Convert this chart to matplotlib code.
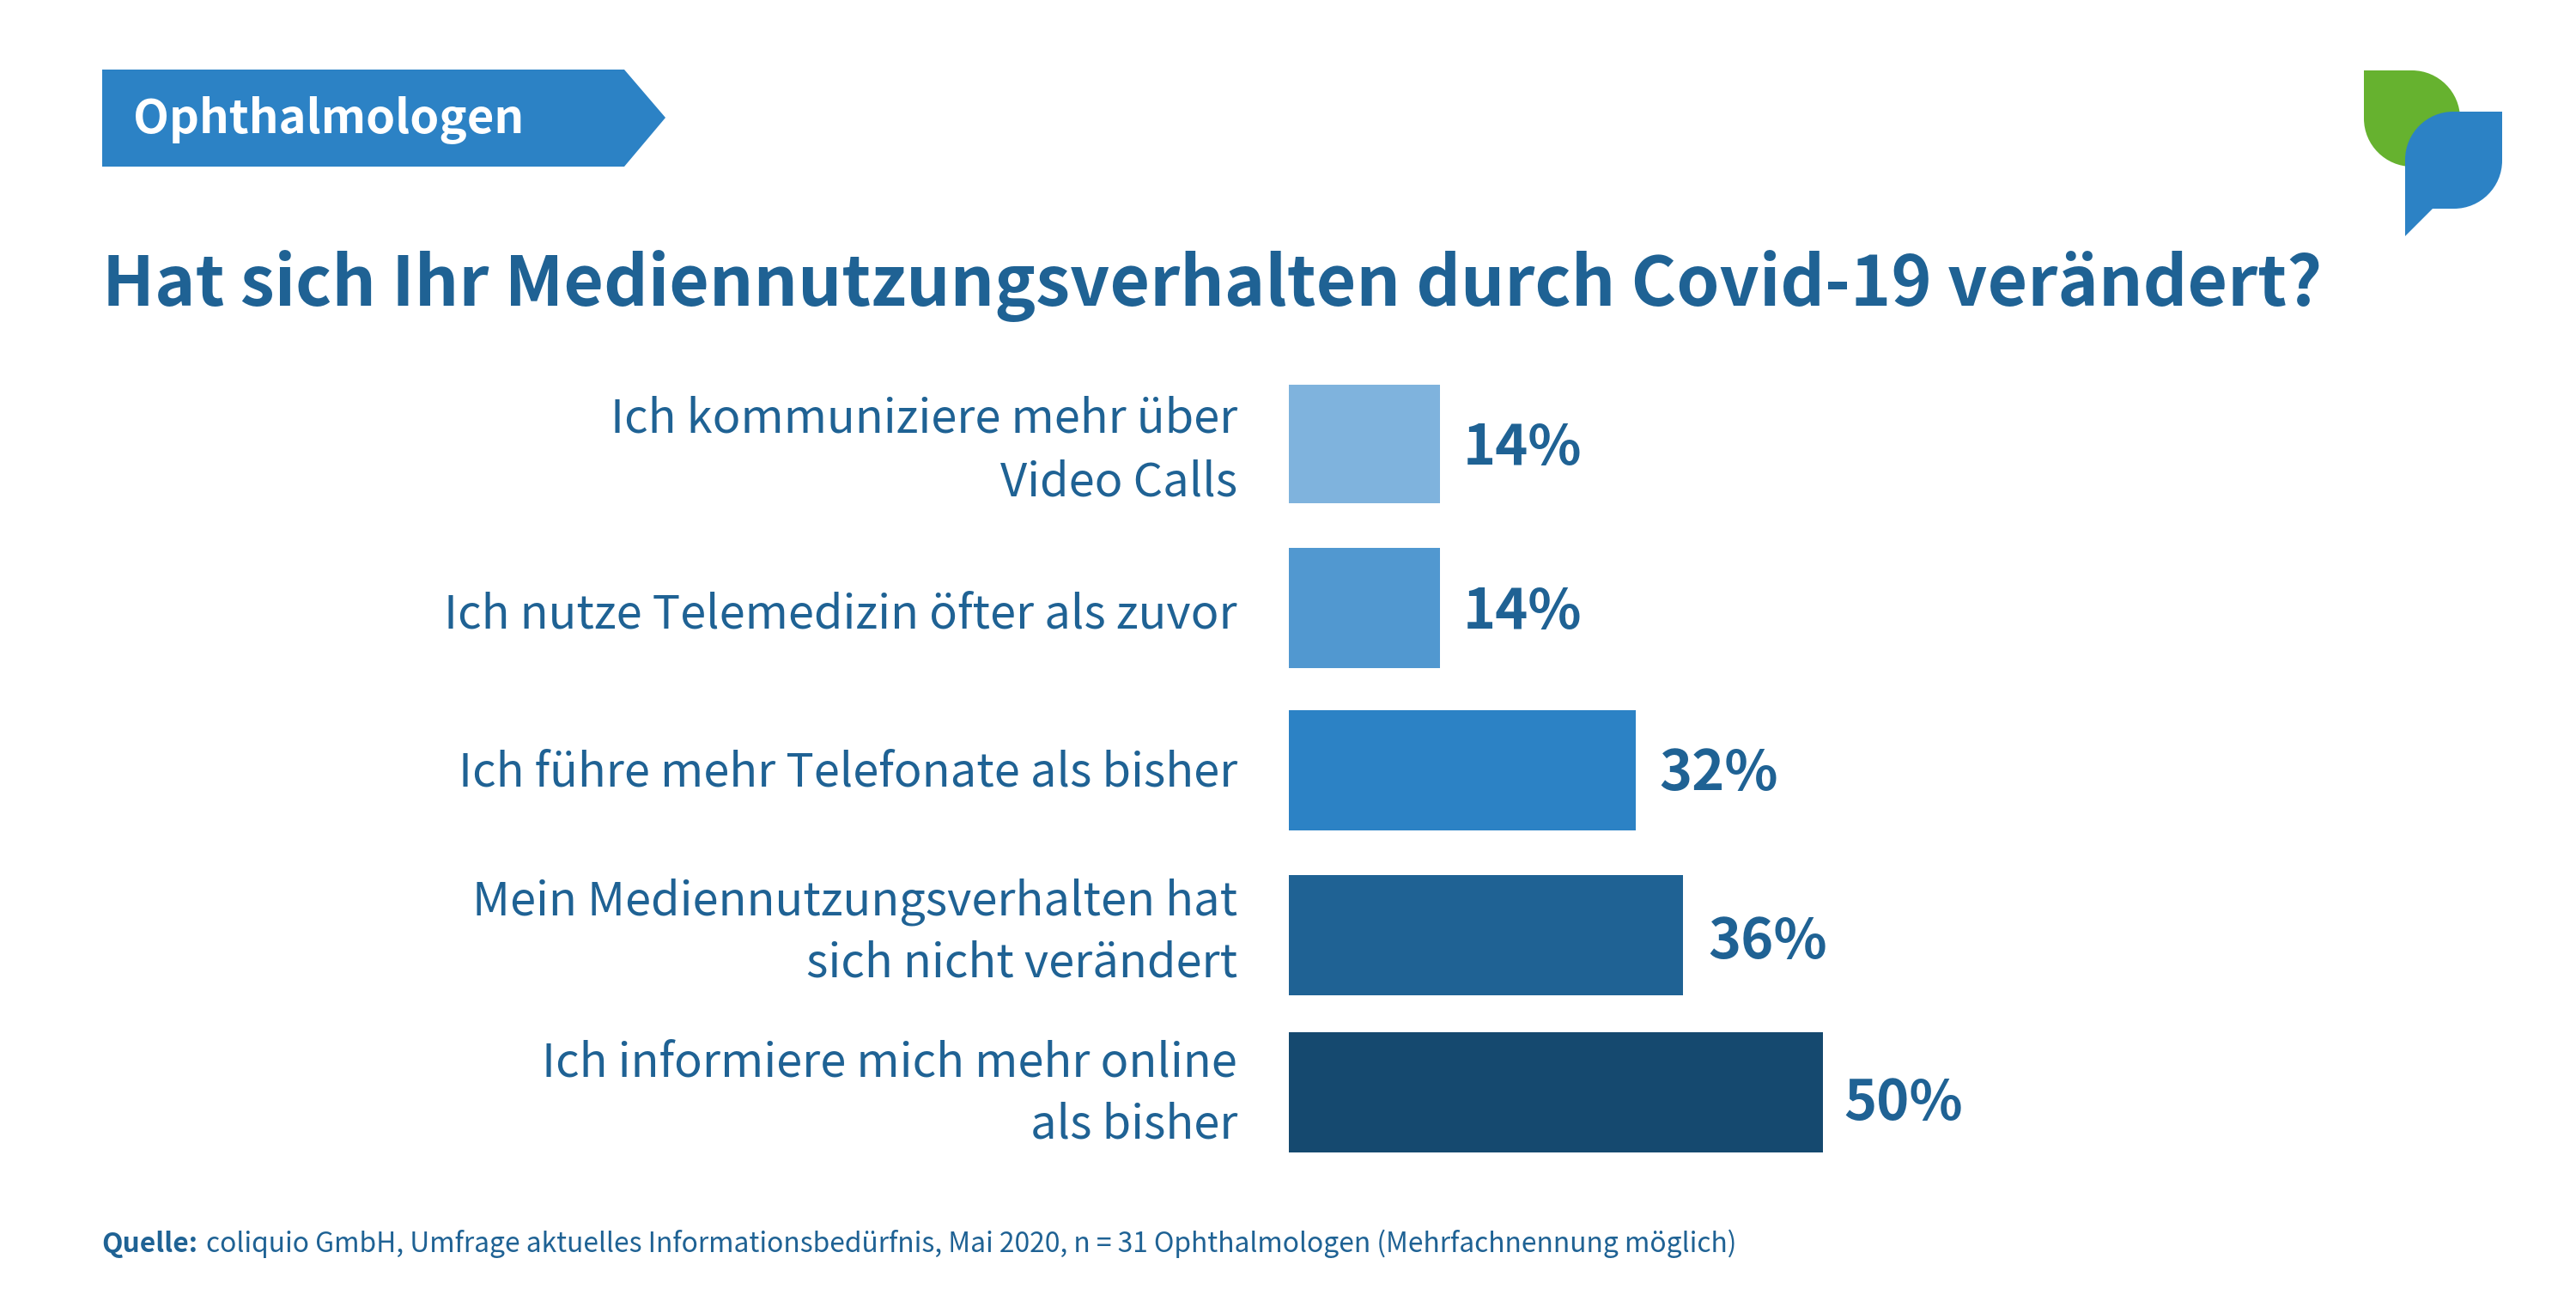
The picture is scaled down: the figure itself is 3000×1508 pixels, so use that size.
import matplotlib
matplotlib.use('Agg')
import matplotlib.pyplot as plt
from matplotlib.path import Path
from matplotlib.patches import PathPatch, Polygon

# answers, top to bottom
labels = ['Ich kommuniziere mehr über\nVideo Calls',
          'Ich nutze Telemedizin öfter als zuvor',
          'Ich führe mehr Telefonate als bisher',
          'Mein Mediennutzungsverhalten hat\nsich nicht verändert',
          'Ich informiere mich mehr online\nals bisher']
value_labels = ['14%', '14%', '32%', '36%', '50%']
bar_lengths = [14.0, 14.0, 32.2, 36.6, 49.6]
bar_colors = ['#7FB3DD', '#5198D0', '#2C82C5', '#1F6294', '#15496F']

title = 'Hat sich Ihr Mediennutzungsverhalten durch Covid-19 verändert?'
tag = 'Ophthalmologen'
source_head = 'Quelle:'
source = 'coliquio GmbH, Umfrage aktuelles Informationsbedürfnis, Mai 2020, n = 31 Ophthalmologen (Mehrfachnennung möglich)'

dark = '#1F6294'
blue = '#2C82C5'
green = '#66B22F'
# the latin glyphs of this family are the closest to the original typeface
font = 'Noto Sans CJK SC'

W, H = 3000, 1508
fig = plt.figure(figsize=(W / 100, H / 100), dpi=100, facecolor='white')

# page layer in pixel coordinates, y pointing down
page = fig.add_axes([0, 0, 1, 1])
page.set_xlim(0, W)
page.set_ylim(H, 0)
page.axis('off')

page.add_patch(Polygon([(119, 81), (727, 81), (775, 137), (727, 194), (119, 194)],
                       closed=True, fc=blue, ec='none'))
page.text(155, 155, tag, color='white', fontsize=39.2, fontweight='bold',
          family=font, va='baseline')
page.text(119, 356, title, color=dark, fontsize=57.9, fontweight='bold',
          family=font, va='baseline')


def leaf(x0, y0, x1, y1, r, corners):
    # square with two opposite corners rounded, corners 'tr-bl' or 'tl-br'
    M, L, C = Path.MOVETO, Path.LINETO, Path.CURVE4
    k = 0.45 * r
    if corners == 'tr-bl':
        v = [(x0, y0), (x1 - r, y0), (x1 - k, y0), (x1, y0 + k), (x1, y0 + r),
             (x1, y1), (x0 + r, y1), (x0 + k, y1), (x0, y1 - k), (x0, y1 - r), (x0, y0)]
        c = [M, L, C, C, C, L, L, C, C, C, L]
    else:
        v = [(x0 + r, y0), (x1, y0), (x1, y1 - r), (x1, y1 - k), (x1 - k, y1), (x1 - r, y1),
             (x0 + 32, y1), (x0, y1 + 32), (x0, y0 + r), (x0, y0 + k), (x0 + k, y0), (x0 + r, y0)]
        c = [M, L, L, C, C, C, L, L, L, C, C, C]
    return Path(v, c)


page.add_patch(PathPatch(leaf(2753, 82, 2865, 194, 56, 'tr-bl'), fc=green, ec='none'))
page.add_patch(PathPatch(leaf(2801, 130, 2914, 243, 56, 'tl-br'), fc=blue, ec='none'))

# bars
left, right = 1501, 2756
top, bottom = 448, 1348
ax = fig.add_axes([left / W, 1 - bottom / H, (right - left) / W, (bottom - top) / H])
ax.set_xlim(0, 100)
ax.set_ylim(bottom, top)
ax.axis('off')
ax.patch.set_alpha(0)
row_mid = [516, 708, 897, 1089, 1272]
ax.barh(row_mid, bar_lengths, height=140.5, color=bar_colors, linewidth=0)

value_base = [541, 732, 920, 1116, 1304]
value_gap = [27, 27, 27, 29, 24]
for y, v, gap, txt in zip(value_base, bar_lengths, value_gap, value_labels):
    ax.annotate(txt, (v, y), xytext=(gap, 0), textcoords='offset pixels', color=dark,
                fontsize=46.6, fontweight='bold', family=font, va='baseline', ha='left')

label_base = [(503, 577), (732,), (915,), (1065, 1138), (1253, 1326)]
for bases, txt in zip(label_base, labels):
    for y, line in zip(bases, txt.split('\n')):
        page.text(1441, y, line, color=dark, fontsize=39, family=font,
                  va='baseline', ha='right')

page.text(118, 1458, source_head, color=dark, fontsize=22.85, fontweight='bold',
          family=font, va='baseline')
page.text(240, 1458, source, color=dark, fontsize=22.85, family=font, va='baseline')

fig.savefig('out.png', dpi=100)
